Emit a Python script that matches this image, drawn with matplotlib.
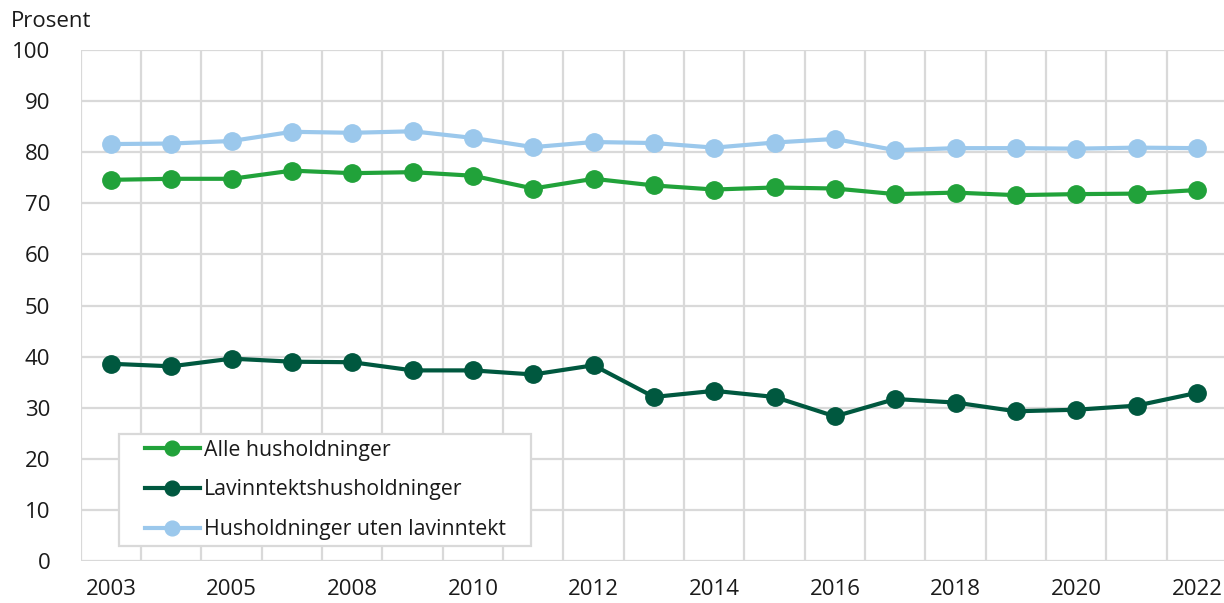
import matplotlib
matplotlib.use('Agg')
import matplotlib.pyplot as plt
from matplotlib.patches import Rectangle
import numpy as np

# ── Data ──────────────────────────────────────────────────────────────────────
years = ['2003', '2004', '2005', '2007', '2008', '2009', '2010', '2011', '2012', '2013',
         '2014', '2015', '2016', '2017', '2018', '2019', '2020', '2021', '2022']
alle = [74.6, 74.8, 74.8, 76.4, 75.9, 76.1, 75.4, 72.9, 74.8, 73.5,
        72.7, 73.1, 72.9, 71.8, 72.1, 71.6, 71.8, 71.9, 72.6]
lavinntekt = [38.6, 38.1, 39.6, 39.0, 38.9, 37.3, 37.3, 36.5, 38.3, 32.1,
              33.3, 32.1, 28.3, 31.7, 31.0, 29.3, 29.6, 30.4, 32.9]
uten_lav = [81.6, 81.7, 82.2, 84.0, 83.8, 84.1, 82.8, 81.0, 82.0, 81.8,
            80.9, 81.9, 82.6, 80.4, 80.8, 80.8, 80.7, 80.9, 80.8]
series_labels = ['Alle husholdninger', 'Lavinntektshusholdninger', 'Husholdninger uten lavinntekt']

# ── Style ─────────────────────────────────────────────────────────────────────
GREEN = '#21A23A'
DARK = '#00583F'
LIGHT = '#9BC8EC'
GRID = '#D9D9D9'
TEXT = '#1A1A1A'
FS = 16
LEG_FS = 15.3

plt.rcParams['font.family'] = ['Open Sans', 'DejaVu Sans']

fig = plt.figure(figsize=(12.24, 6.03), dpi=100)
ax = fig.add_axes([0.066, 0.0697, 0.9365, 0.8473])

x = np.arange(len(years))
for vals, col, lab in [(alle, GREEN, series_labels[0]),
                       (lavinntekt, DARK, series_labels[1]),
                       (uten_lav, LIGHT, series_labels[2])]:
    ax.plot(x, vals, color=col, lw=3, marker='o', ms=12.5, label=lab, zorder=3)

ax.set_xlim(-0.5, len(years) - 0.5)
ax.set_ylim(0, 100)
ax.set_yticks(range(0, 101, 10))
ax.set_xticks(x[::2])
ax.set_xticklabels(years[::2])
ax.set_xticks(np.arange(-0.5, len(years), 1), minor=True)

ax.grid(False)
ax.yaxis.grid(True, color=GRID, lw=1.6)
ax.xaxis.grid(True, which='minor', color=GRID, lw=1.6)
for s in ax.spines.values():
    s.set_visible(False)
ax.tick_params(which='both', length=0)
ax.tick_params(axis='y', labelsize=FS, colors=TEXT, pad=22)
ax.tick_params(axis='x', labelsize=FS, colors=TEXT, pad=13)
ax.set_axisbelow(True)

fig.text(0.009, 0.965, 'Prosent', fontsize=FS, color=TEXT, ha='left', va='center')

# legend without its own frame; a wider box is drawn behind it below
leg = ax.legend(loc='lower left', bbox_to_anchor=(0.0558, 0.041), borderaxespad=0,
                fontsize=LEG_FS, frameon=False, handlelength=2.6, handletextpad=0.2,
                labelspacing=0.88, borderpad=0, markerscale=0.85)
for t in leg.get_texts():
    t.set_color(TEXT)

fig.canvas.draw()
bb = leg.get_window_extent(fig.canvas.get_renderer())
pad_l, pad_r, pad_t, pad_b = 26, 25, 6, 6
(x0, y0), (x1, y1) = ax.transAxes.inverted().transform(
    [(bb.x0 - pad_l, bb.y0 - pad_b), (bb.x1 + pad_r, bb.y1 + pad_t)])
ax.add_patch(Rectangle((x0, y0), x1 - x0, y1 - y0, transform=ax.transAxes,
                       facecolor='white', edgecolor=GRID, lw=1.6, zorder=4.5,
                       clip_on=False))

fig.savefig('out.png', dpi=100)
